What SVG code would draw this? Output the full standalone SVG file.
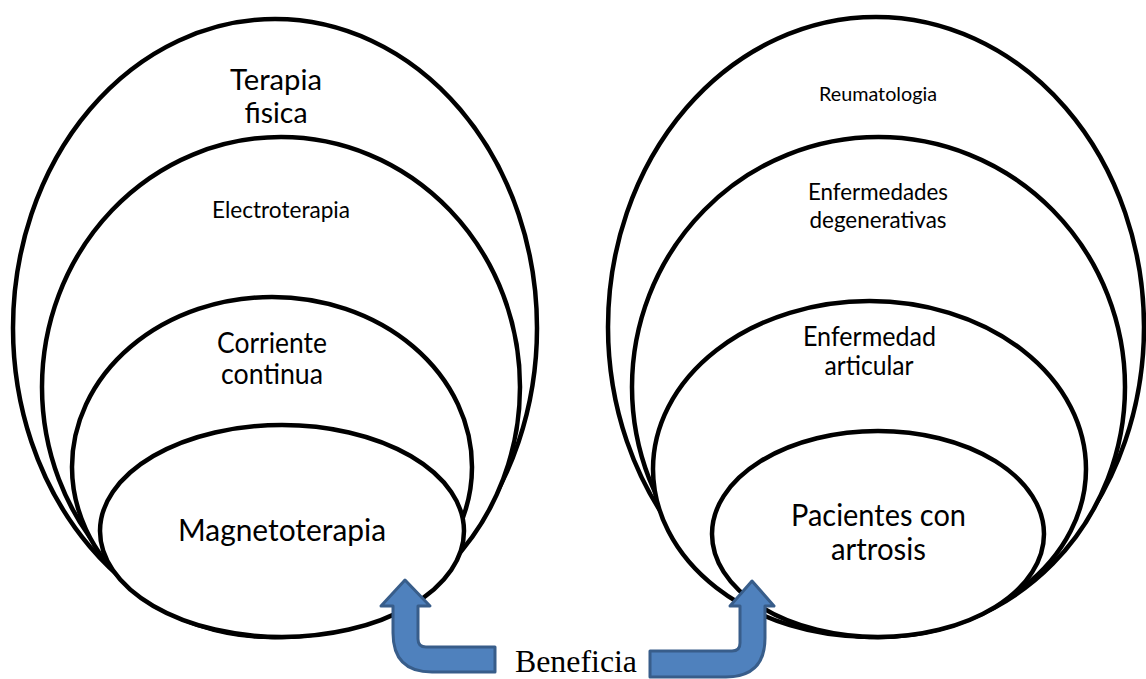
<svg xmlns="http://www.w3.org/2000/svg" width="1146" height="679" viewBox="0 0 1146 679">
<style>
.ring{fill:#ffffff;stroke:#000000;stroke-width:4.5}
.t{font-family:Lato,"Open Sans","Liberation Sans",sans-serif;fill:#000000;text-anchor:middle}
.arrow{fill:#4F81BD;stroke:#385D8A;stroke-width:3;stroke-linejoin:round}
.lbl{font-family:"Liberation Serif","Times New Roman",serif;font-size:31px;fill:#000000;text-anchor:middle}
</style>
<rect width="1146" height="679" fill="#ffffff"/>
<g id="left-set">
<g id="terapia-fisica">
<ellipse class="ring" cx="275" cy="328" rx="262" ry="309"/>
<text class="t" x="276" y="90" font-size="29" textLength="92" lengthAdjust="spacingAndGlyphs">Terapia</text>
<text class="t" x="276" y="123" font-size="29" textLength="63" lengthAdjust="spacingAndGlyphs">fisica</text>
</g>
<g id="electroterapia">
<ellipse class="ring" cx="281" cy="387" rx="239" ry="250"/>
<text class="t" x="281" y="218" font-size="23" textLength="138" lengthAdjust="spacingAndGlyphs">Electroterapia</text>
</g>
<g id="corriente-continua">
<ellipse class="ring" cx="272" cy="467" rx="200" ry="170"/>
<text class="t" x="272" y="353" font-size="28" textLength="110" lengthAdjust="spacingAndGlyphs">Corriente</text>
<text class="t" x="272" y="384" font-size="28" textLength="102" lengthAdjust="spacingAndGlyphs">continua</text>
</g>
<g id="magnetoterapia">
<ellipse class="ring" cx="282" cy="531" rx="182" ry="106"/>
<text class="t" x="282" y="541" font-size="31" textLength="208" lengthAdjust="spacingAndGlyphs">Magnetoterapia</text>
</g>
</g>
<g id="right-set">
<g id="reumatologia">
<ellipse class="ring" cx="876" cy="327" rx="268" ry="310"/>
<text class="t" x="878" y="101" font-size="20" textLength="118" lengthAdjust="spacingAndGlyphs">Reumatologia</text>
</g>
<g id="enfermedades-degenerativas">
<ellipse class="ring" cx="878.5" cy="387" rx="246.5" ry="250"/>
<text class="t" x="878" y="200" font-size="23" textLength="140" lengthAdjust="spacingAndGlyphs">Enfermedades</text>
<text class="t" x="878" y="228" font-size="23" textLength="137" lengthAdjust="spacingAndGlyphs">degenerativas</text>
</g>
<g id="enfermedad-articular">
<ellipse class="ring" cx="869.5" cy="469" rx="216.5" ry="168"/>
<text class="t" x="869.5" y="346" font-size="26" textLength="133" lengthAdjust="spacingAndGlyphs">Enfermedad</text>
<text class="t" x="869" y="375" font-size="26" textLength="89" lengthAdjust="spacingAndGlyphs">articular</text>
</g>
<g id="pacientes-artrosis">
<ellipse class="ring" cx="878" cy="534" rx="166" ry="103"/>
<text class="t" x="878.5" y="526" font-size="30" textLength="175" lengthAdjust="spacingAndGlyphs">Pacientes con</text>
<text class="t" x="878.5" y="560" font-size="30" textLength="95" lengthAdjust="spacingAndGlyphs">artrosis</text>
</g>
</g>
<g id="connectors">
<path class="arrow" d="M405,580 L430,606 L418,606 L418,639 Q418,647 426,647 L495,647 L495,672 L432,672 Q393,672 393,633 L393,606 L381,606 Z"/>
<path class="arrow" d="M752,581 L774,606 L765,606 L765,638 Q765,677 726,677 L650,677 L650,651 L732,651 Q740,651 740,643 L740,606 L730,606 Z"/>
<text class="lbl" x="576" y="672" textLength="122" lengthAdjust="spacingAndGlyphs">Beneficia</text>
</g>
</svg>
